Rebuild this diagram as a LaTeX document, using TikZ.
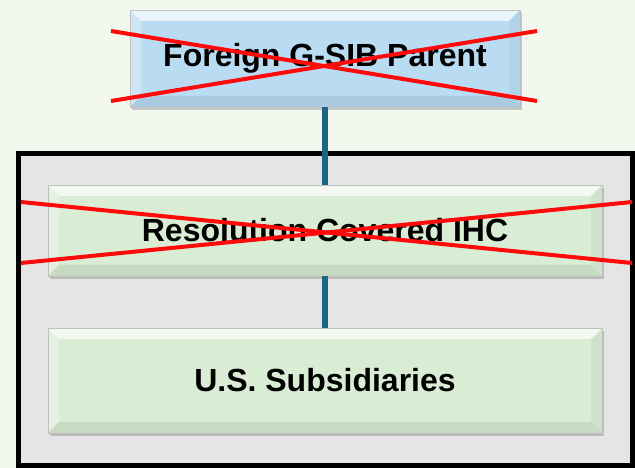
\documentclass[tikz,border=0pt]{standalone}
\usepackage{fontspec}
\setmainfont{Liberation Sans}
\usetikzlibrary{shadows,calc}

\definecolor{pagebg}{HTML}{F2F8EE}
\definecolor{boxgray}{HTML}{E5E5E5}
\definecolor{parentblue}{HTML}{B9DCF3}
\definecolor{subsgreen}{HTML}{D8EDD3}
\definecolor{linkteal}{HTML}{1B6586}
\definecolor{crossred}{HTML}{FF0A0A}

\tikzset{
  entity/.style={draw=black!25, line width=0.5pt, inner sep=0pt,
    font=\fontsize{32}{36}\selectfont\bfseries,
    drop shadow={opacity=0.4, shadow xshift=2pt, shadow yshift=-3pt},
    path picture={
      \def\bev{11pt}
      \coordinate (bnw) at (path picture bounding box.north west);
      \coordinate (bne) at (path picture bounding box.north east);
      \coordinate (bsw) at (path picture bounding box.south west);
      \coordinate (bse) at (path picture bounding box.south east);
      \fill[white, opacity=0.7] (bnw) -- (bne) -- ($(bne)+(-\bev,-\bev)$) -- ($(bnw)+(\bev,-\bev)$) -- cycle;
      \fill[white, opacity=0.3] (bnw) -- (bsw) -- ($(bsw)+(\bev,\bev)$) -- ($(bnw)+(\bev,-\bev)$) -- cycle;
      \fill[black, opacity=0.04] (bne) -- (bse) -- ($(bse)+(-\bev,\bev)$) -- ($(bne)+(-\bev,-\bev)$) -- cycle;
      \fill[black, opacity=0.08] (bsw) -- (bse) -- ($(bse)+(-\bev,\bev)$) -- ($(bsw)+(\bev,\bev)$) -- cycle;
    }},
  link/.style={linkteal, line width=6pt},
  cross/.style={crossred, line width=4pt}
}

\begin{document}
\begin{tikzpicture}[x=1pt, y=1pt]
  \fill[pagebg] (0,0) rectangle (635,468);
  \useasboundingbox (0,0) rectangle (635,468);

  % outer frame round the covered IHC
  \draw[line width=5pt, fill=boxgray] (18,2) rectangle (632,314);

  \node[entity, fill=parentblue, minimum width=390pt, minimum height=97pt] (parent) at (325,409.5) {Foreign G-SIB Parent};
  \node[entity, fill=subsgreen, minimum width=554pt, minimum height=91pt] (ihc) at (325,237.5) {Resolution Covered IHC};
  \node[entity, fill=subsgreen, minimum width=554pt, minimum height=105pt] (subs) at (325,87.5) {U.S. Subsidiaries};

  \draw[link] (parent.south) -- (ihc.north);
  \draw[link] (ihc.south) -- (subs.north);

  % crossed out
  \coordinate (pa) at (111,437);
  \coordinate (pb) at (537,367);
  \coordinate (pc) at (111,367);
  \coordinate (pd) at (537,437);
  \draw[cross] (pa) -- (pb);
  \draw[cross] (pc) -- (pd);

  \coordinate (ia) at (21,266);
  \coordinate (ib) at (632,205);
  \coordinate (ic) at (21,205);
  \coordinate (id) at (632,266);
  \draw[cross] (ia) -- (ib);
  \draw[cross] (ic) -- (id);
\end{tikzpicture}
\end{document}
